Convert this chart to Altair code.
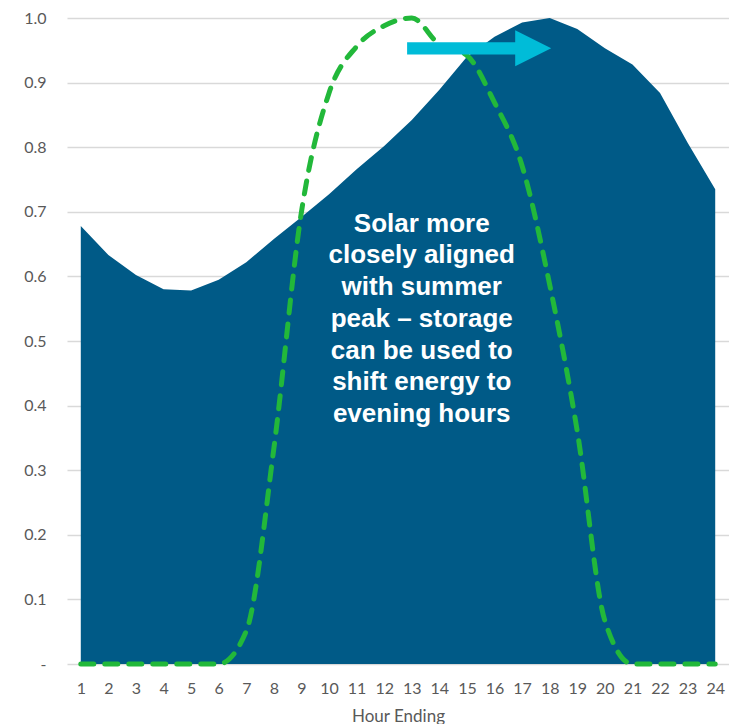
import altair as alt
import pandas as pd

hours = list(range(1, 25))
load = [0.678, 0.633, 0.602, 0.580, 0.578, 0.595, 0.622, 0.658, 0.692, 0.727,
        0.766, 0.802, 0.842, 0.889, 0.940, 0.971, 0.993, 1.000, 0.983, 0.953,
        0.928, 0.884, 0.807, 0.735]
solar = [0, 0, 0, 0, 0, 0, 0.051, 0.334, 0.700, 0.884,
         0.956, 0.988, 1.000, 0.959, 0.942, 0.869, 0.771, 0.587, 0.360, 0.067,
         0, 0, 0, 0]
y_ticks = [0.0, 0.1, 0.2, 0.3, 0.4, 0.5, 0.6, 0.7, 0.8, 0.9, 1.0]

note_text = ["Solar more", "closely aligned", "with summer", "peak \u2013 storage",
             "can be used to", "shift energy to", "evening hours"]
note_x = [13.36]
note_y = [0.6815]

arrow_x = [12.83]
arrow_x2 = [16.85]
arrow_y = [0.953]
head_x = [17.40]

df = pd.DataFrame({"hour": hours, "load": load, "solar": solar})
note_df = pd.DataFrame({"x": note_x, "y": note_y, "t": ["\n".join(note_text)]})
arrow_df = pd.DataFrame({"x": arrow_x, "x2": arrow_x2, "y": arrow_y, "hx": head_x})

xscale = alt.Scale(domain=[0.5, 24.5], nice=False, zero=False)
yscale = alt.Scale(domain=[0, 1], nice=False)

xaxis = alt.Axis(values=hours, title="Hour Ending", grid=False, ticks=False, domain=False,
                 labelOverlap=False, labelFont="Lato", labelFontSize=16, labelColor="#595959",
                 labelPadding=16, labelAngle=0, titleFont="Lato", titleFontSize=17,
                 titleFontWeight="normal", titleColor="#595959", titlePadding=12)
yaxis = alt.Axis(values=y_ticks, title=None, ticks=False, domain=False,
                 labelExpr="datum.value == 0 ? '-' : format(datum.value, '.1f')",
                 labelOverlap=False, labelFont="Lato", labelFontSize=16, labelColor="#595959",
                 labelPadding=21, gridColor="#d9d9d9", gridWidth=1.3)


def X(field):
    return alt.X(field, scale=xscale, axis=xaxis, title="Hour Ending")


def Y(field):
    return alt.Y(field, scale=yscale, axis=yaxis, title=None)


area = alt.Chart(df).mark_area(color="#005A87", interpolate="linear").encode(
    x=X("hour:Q"), y=Y("load:Q"),
)

line = alt.Chart(df).mark_line(color="#22B83A", strokeWidth=5, strokeDash=[13, 11],
                               strokeCap="round", interpolate="monotone").encode(
    x=X("hour:Q"), y=Y("solar:Q")
)

text = alt.Chart(note_df).mark_text(color="white", font="Liberation Sans", fontWeight="bold",
                                    fontSize=26, lineBreak="\n", lineHeight=31.7,
                                    align="center", baseline="middle").encode(
    x=X("x:Q"), y=Y("y:Q"), text="t:N"
)

shaft = alt.Chart(arrow_df).mark_rule(color="#00BCD8", strokeWidth=12.4).encode(
    x=X("x:Q"), x2="x2:Q", y=Y("y:Q")
)
head = alt.Chart(arrow_df).mark_point(shape="M-1,-1L1,0L-1,1Z", size=1296, filled=True,
                                      opacity=1, color="#00BCD8", strokeWidth=0).encode(
    x=X("hx:Q"), y=Y("y:Q")
)

chart = alt.layer(area, line, text, shaft, head).properties(
    width=662, height=646,
    autosize=alt.AutoSizeParams(type="none"),
    padding={"left": 59, "top": 10, "right": 0, "bottom": 60},
).configure_view(stroke=None).configure_axis(labelOverlap=False)

chart.save("out.html", embed_options={"renderer": "svg", "actions": False})
